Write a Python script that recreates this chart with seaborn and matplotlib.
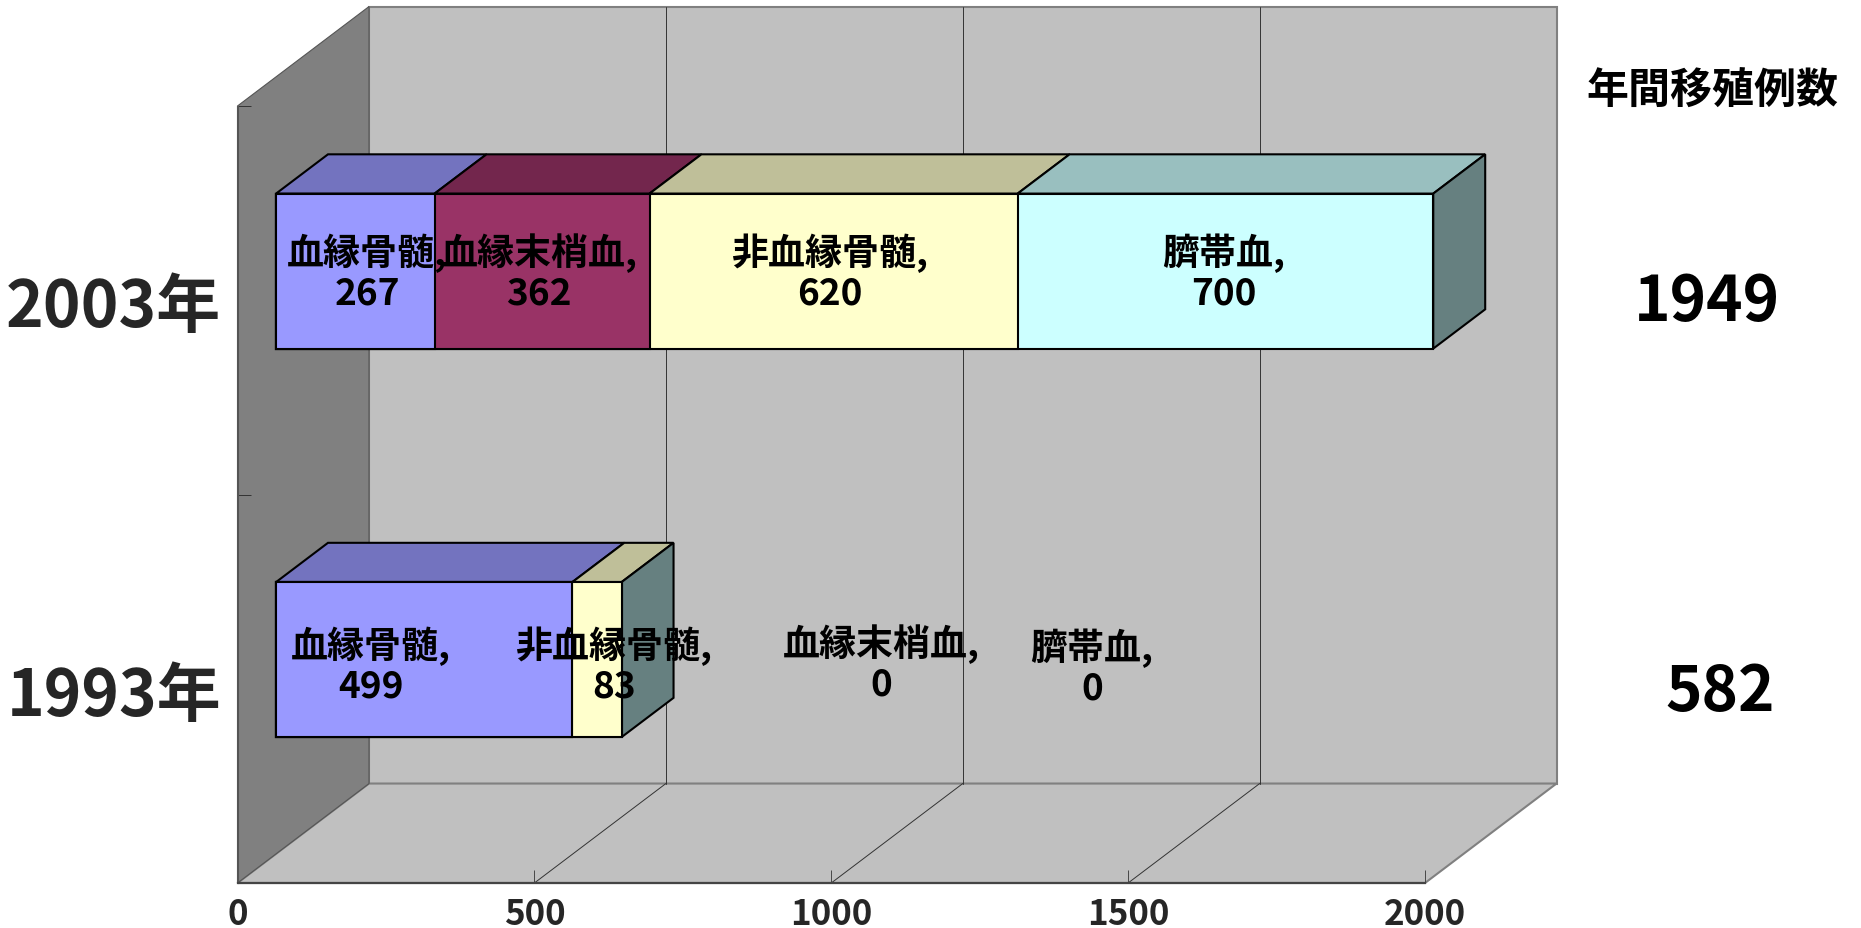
import numpy as np
import matplotlib
matplotlib.use("Agg")
import matplotlib.pyplot as plt
import matplotlib.colors as mcolors
from matplotlib.patches import Polygon
import seaborn as sns

# =============================

years = ["2003年", "1993年"]
types = ["血縁骨髄", "血縁末梢血", "非血縁骨髄", "臍帯血"]
bm_related = [267, 499]
pb_related = [362, 0]
bm_unrelated = [620, 83]
cord_blood = [700, 0]
colors = ["#9999FF", "#993366", "#FFFFCC", "#CCFFFF"]
x_ticks = [0, 500, 1000, 1500, 2000]
total_title = "年間移殖例数"

# =============================

W, H = 1861, 929
DEPTH_X = 221.5   # how far the back wall sits, in x units
DEPTH_Y = 0.256   # same, in category units
BAR_FRONT, BAR_BACK = 0.293, 0.688
BAR_WIDTH = 0.399
GRID = "#333333"
EDGE = "#808080"

def px(size):
    return size * 72 / 100

def project(x, y, d):
    return (x + DEPTH_X * d, y - DEPTH_Y * d)

def shade(color, factor):
    return tuple(c * factor for c in mcolors.to_rgb(color))

sns.set_theme(style="white")
plt.rcParams["font.family"] = ["Noto Sans CJK JP", "DejaVu Sans"]
plt.rcParams["font.weight"] = "bold"

fig = plt.figure(figsize=(W / 100, H / 100), dpi=100, facecolor="white")
ax = fig.add_axes([237.5 / W, (H - 884) / H, 1187.5 / W, 777 / H])
ax.patch.set_visible(False)

series = np.array([bm_related, pb_related, bm_unrelated, cord_blood])
cum = series.cumsum(axis=0)

# Stack by overdrawing the running totals, longest first
for i in range(len(types) - 1, -1, -1):
    sns.barplot(x=cum[i], y=years, order=years, orient="h", color=colors[i], saturation=1,
                width=BAR_WIDTH, edgecolor="black", linewidth=1.5, zorder=3, ax=ax)

ax.set_xlim(0, 2000)
ax.set_ylim(1.5, -0.5)
ax.set_xlabel("")
ax.set_ylabel("")

# Push the bars back to their depth in the box
sx, sy = project(0, 0, BAR_FRONT)
for p in ax.patches:
    p.set_x(p.get_x() + sx)
    p.set_y(p.get_y() + sy)
    p.set_clip_on(False)

# Walls and floor
x0, x1, y0, y1 = 0, 2000, -0.5, 1.5
def wall(points, face, edge, lw=1.5, z=0.5):
    ax.add_patch(Polygon(points, closed=True, facecolor=face, edgecolor=edge, linewidth=lw, zorder=z, clip_on=False))

wall([project(x0, y0, 1), project(x1, y0, 1), project(x1, y1, 1), project(x0, y1, 1)], "#C0C0C0", EDGE)
wall([project(x0, y1, 0), project(x1, y1, 0), project(x1, y1, 1), project(x0, y1, 1)], "#C0C0C0", EDGE)
wall([project(x0, y0, 0), project(x0, y0, 1), project(x0, y1, 1), project(x0, y1, 0)], "#808080", "#555555", lw=0.8)

for t in x_ticks[1:-1] + [x_ticks[-1]]:
    if t != x_ticks[-1]:
        a, b = project(t, y1, 0), project(t, y1, 1)
        ax.plot([a[0], b[0]], [a[1], b[1]], color=GRID, lw=0.7, zorder=1, clip_on=False)
    a, b = project(t, y1, 1), project(t, y0, 1)
    if t != x_ticks[-1]:
        ax.plot([a[0], b[0]], [a[1], b[1]], color=GRID, lw=0.7, zorder=1, clip_on=False)

# Top and side faces of the bars
for row in range(len(years)):
    yf = row - BAR_WIDTH / 2
    start = 0
    for i in range(len(types)):
        end = cum[i][row]
        if end > start:
            wall([project(start, yf, BAR_FRONT), project(end, yf, BAR_FRONT),
                  project(end, yf, BAR_BACK), project(start, yf, BAR_BACK)],
                 shade(colors[i], 0.75), "black", z=2.5)
        start = end
    yb = row + BAR_WIDTH / 2
    wall([project(start, yf, BAR_FRONT), project(start, yf, BAR_BACK),
          project(start, yb, BAR_BACK), project(start, yb, BAR_FRONT)],
         shade(colors[-1], 0.5), "black", z=2.5)

# Axes
sns.despine(ax=ax)
ax.spines["left"].set(color="#555555", linewidth=0.8)
ax.spines["bottom"].set(color="#444444", linewidth=1.6)
ax.set_xticks(x_ticks)
ax.tick_params(axis="x", direction="in", length=px(13), width=0.6, color=GRID, labelsize=px(35), pad=px(13), bottom=True)
ax.set_yticks([-0.5, 0.5, 1.5], minor=True)
ax.tick_params(axis="y", which="minor", direction="in", length=px(13), width=0.7, color=GRID, left=True)
ax.tick_params(axis="y", which="major", length=0, labelsize=px(64), pad=px(16))
for lab in ax.get_xticklabels() + ax.get_yticklabels():
    lab.set_fontweight("bold")

# Data labels were dragged by hand in the original, so they go by pixel
def label(x, y, s, size=37):
    fig.text(x / W, 1 - y / H, s, ha="center", va="center", fontsize=px(size), fontweight="bold",
             linespacing=1.1, color="black", zorder=10)

label_xy = {
    (0, 0): (367, 273), (0, 1): (539, 273), (0, 2): (830, 273), (0, 3): (1224, 273),
    (1, 0): (371, 666), (1, 2): (614, 666), (1, 1): (881, 664), (1, 3): (1092, 668),
}
for (row, i), (lx, ly) in label_xy.items():
    label(lx, ly, f"{types[i]},\n{series[i][row]}")

# Totals on the right
label(1712, 92, total_title, size=42)
totals = series.sum(axis=0)
label(1707, 303, str(totals[0]), size=62)
label(1720, 692, str(totals[1]), size=62)

plt.savefig("out.png", dpi=100)
plt.close()
